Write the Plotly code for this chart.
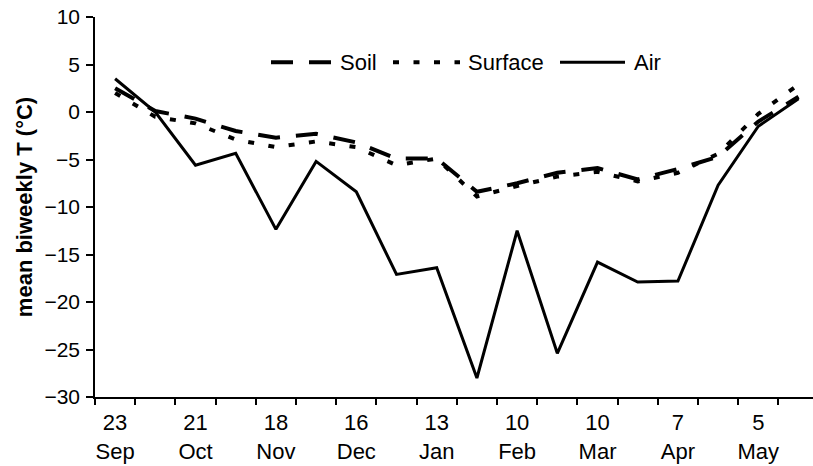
import plotly.graph_objects as go

# Biweekly sampling dates (day, month)
days = ["23", "7", "21", "4", "18", "2", "16", "30", "13", "27",
        "10", "24", "10", "24", "7", "21", "5", "19"]
months = ["Sep", "Oct", "Oct", "Nov", "Nov", "Dec", "Dec", "Dec", "Jan", "Jan",
          "Feb", "Feb", "Mar", "Mar", "Apr", "Apr", "May", "May"]

# Mean biweekly temperatures (°C)
soil = [2.5, 0.1, -0.7, -2.0, -2.7, -2.3, -3.2, -4.9, -4.9, -8.4,
        -7.5, -6.4, -5.9, -7.1, -6.0, -4.7, -1.0, 1.6]
surface = [2.0, -0.5, -1.2, -2.9, -3.7, -3.1, -3.7, -5.6, -4.9, -8.9,
           -7.8, -6.8, -6.3, -7.3, -6.4, -4.4, -0.2, 2.9]
air = [3.5, 0.0, -5.6, -4.35, -12.35, -5.2, -8.4, -17.1, -16.4, -28.0,
       -12.5, -25.4, -15.8, -17.9, -17.8, -7.7, -1.5, 1.4]

series = [
    ("Soil", soil, "22px,16px", 4),
    ("Surface", surface, "6px,14.5px", 4),
    ("Air", air, "solid", 3),
]

x = list(range(len(days)))
label_idx = x[::2]
ticktext = [f"{days[i]}<br>{months[i]}" for i in label_idx]

FONT = "Liberation Sans, Arial, Helvetica, sans-serif"

fig = go.Figure()
for name, vals, dash, w in series:
    fig.add_trace(go.Scatter(
        x=x, y=vals, name=name, mode="lines",
        line=dict(color="black", width=w, dash=dash),
        showlegend=False,
    ))

# Plot-area geometry used to place the legend in paper units
L, R, T, B = 95, 813, 16.7, 396.7


def px_to_paper(px, py):
    return (px - L) / (R - L), (B - py) / (B - T)


legend_items = [
    # name, sample start, sample end, label start (pixels)
    ("Soil", 271, 332, 338),
    ("Surface", 393, 460, 466),
    ("Air", 560, 625, 632),
]
legend_y = 62
shapes = []
annotations = []
for (name, vals, dash, w), (lname, x0, x1, tx) in zip(series, legend_items):
    ax0, ay = px_to_paper(x0, legend_y)
    ax1, _ = px_to_paper(x1, legend_y)
    shapes.append(dict(type="line", xref="paper", yref="paper",
                       x0=ax0, x1=ax1, y0=ay, y1=ay,
                       line=dict(color="black", width=w, dash=dash)))
    atx, _ = px_to_paper(tx, legend_y)
    annotations.append(dict(text=lname, xref="paper", yref="paper",
                            x=atx, y=ay, xanchor="left", yanchor="middle",
                            showarrow=False,
                            font=dict(family=FONT, size=22, color="black")))

fig.update_layout(
    width=813, height=466,
    margin=dict(l=L, r=813 - R, t=T, b=466 - B),
    paper_bgcolor="white", plot_bgcolor="white",
    font=dict(family=FONT, size=21, color="black"),
    shapes=shapes, annotations=annotations,
    xaxis=dict(
        range=[-0.5, 17.36],
        tickvals=label_idx, ticktext=ticktext,
        ticks="", showgrid=False, zeroline=False,
        ticklabelstandoff=5,
        showline=True, linecolor="black", linewidth=1.5,
        minor=dict(tick0=-0.5, dtick=1, ticks="outside", ticklen=6,
                   tickcolor="black", tickwidth=1.5, showgrid=False),
        tickfont=dict(size=22),
    ),
    yaxis=dict(
        range=[-30, 10], dtick=5,
        ticks="outside", ticklen=7, tickcolor="black", tickwidth=1.5,
        ticklabelstandoff=2,
        showgrid=False, zeroline=False,
        showline=True, linecolor="black", linewidth=1.5,
        tickfont=dict(size=21),
        title=dict(text="<b>mean biweekly T (°C)</b>",
                   font=dict(size=22), standoff=6),
    ),
)

fig.write_html("out.html")
